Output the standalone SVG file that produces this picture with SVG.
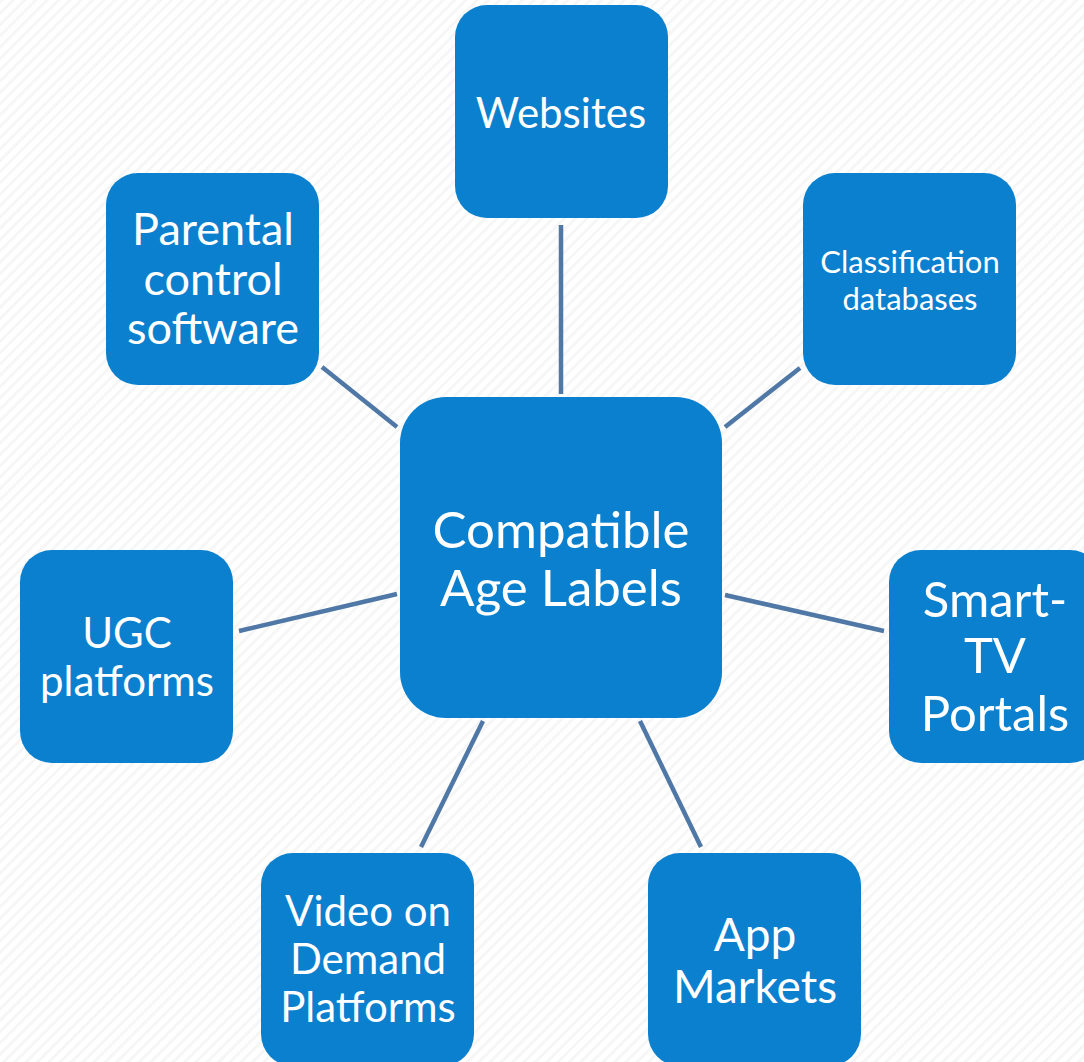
<svg xmlns="http://www.w3.org/2000/svg" width="1084" height="1062" viewBox="0 0 1084 1062">
<style>
.box{fill:#0B80CF}
.t{fill:#fff;font-family:Lato,"Open Sans","Liberation Sans",sans-serif;text-anchor:middle}
.c{stroke:#4F78A6;stroke-width:4.5;fill:none}
</style>
<defs>
<pattern id="bg" width="8" height="8" patternUnits="userSpaceOnUse" patternTransform="rotate(45)">
<rect width="8" height="8" fill="#ffffff"/>
<rect width="3" height="8" fill="#f6f6f6"/>
</pattern>
</defs>
<rect width="1084" height="1062" fill="url(#bg)"/>
<g id="connectors">
<line class="c" x1="561" y1="225" x2="561" y2="394"/>
<line class="c" x1="800" y1="368" x2="725" y2="427"/>
<line class="c" x1="322" y1="367" x2="397" y2="427"/>
<line class="c" x1="239" y1="631" x2="397" y2="594"/>
<line class="c" x1="725" y1="595" x2="884" y2="631"/>
<line class="c" x1="483" y1="721" x2="421" y2="847"/>
<line class="c" x1="640" y1="721" x2="701" y2="847"/>
</g>
<g id="center">
<rect class="box" x="400" y="397" width="322" height="321" rx="46"/>
<text class="t" font-size="51" x="561" y="548">Compatible</text>
<text class="t" font-size="51" x="561" y="606">Age Labels</text>
</g>
<g id="websites">
<rect class="box" x="455" y="5" width="213" height="213" rx="32"/>
<text class="t" font-size="42" x="561" y="128">Websites</text>
</g>
<g id="classification">
<rect class="box" x="803" y="173" width="213" height="212" rx="32"/>
<text class="t" font-size="31" x="910" y="273">Classification</text>
<text class="t" font-size="31" x="910" y="310">databases</text>
</g>
<g id="parental">
<rect class="box" x="106" y="173" width="213" height="212" rx="32"/>
<text class="t" font-size="45" x="213" y="245">Parental</text>
<text class="t" font-size="45" x="213" y="295">control</text>
<text class="t" font-size="45" x="213" y="344">software</text>
</g>
<g id="ugc">
<rect class="box" x="20" y="550" width="213" height="213" rx="32"/>
<text class="t" font-size="42" x="127" y="648">UGC</text>
<text class="t" font-size="42" x="127" y="696">platforms</text>
</g>
<g id="smarttv">
<rect class="box" x="889" y="550" width="213" height="213" rx="32"/>
<text class="t" font-size="49" x="995" y="617">Smart-</text>
<text class="t" font-size="49" x="995" y="673">TV</text>
<text class="t" font-size="49" x="995" y="731">Portals</text>
</g>
<g id="vod">
<rect class="box" x="261" y="853" width="213" height="213" rx="32"/>
<text class="t" font-size="42" x="368" y="926">Video on</text>
<text class="t" font-size="42" x="368" y="974">Demand</text>
<text class="t" font-size="42" x="368" y="1022">Platforms</text>
</g>
<g id="app">
<rect class="box" x="648" y="853" width="213" height="213" rx="32"/>
<text class="t" font-size="46" x="755" y="951">App</text>
<text class="t" font-size="46" x="755" y="1003">Markets</text>
</g>
</svg>
